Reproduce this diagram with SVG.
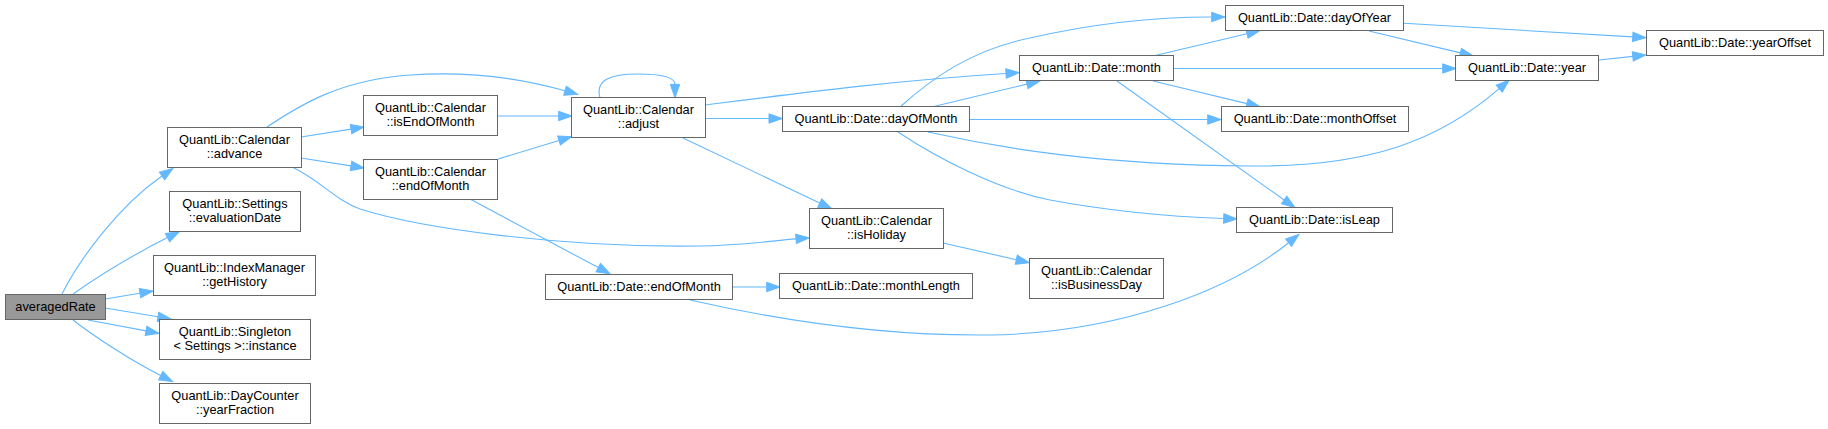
<svg xmlns="http://www.w3.org/2000/svg" width="1828" height="429" viewBox="0 0 1828 429">
<style>
.n rect{fill:#ffffff;stroke:#666666;stroke-width:1}
.n.cur rect{fill:#999999}
.n text{font-family:"Liberation Sans",Arial,sans-serif;font-size:12.8px;fill:#000000;text-anchor:middle}
.e path{fill:none;stroke:#63b8ff;stroke-width:1.1;marker-end:url(#ah)}
</style>
<defs>
<marker id="ah" viewBox="0 -5 14 10" markerWidth="14" markerHeight="10" refX="0" refY="0" orient="auto" markerUnits="userSpaceOnUse" overflow="visible">
<path d="M0,-4.7 L13.3,0 L0,4.7 Z" fill="#63b8ff" stroke="#63b8ff" stroke-width="1"/>
</marker>
</defs>
<rect x="0" y="0" width="1828" height="429" fill="#ffffff"/>
<g id="connectors" class="e">
<path d="M62,294 C80,258 120,205 162,176"/>
<path d="M73,294 C100,275 135,254 167.5,237.6"/>
<path d="M105,299 L140,293.2"/>
<path d="M105,308 L158,316.8"/>
<path d="M88,320 L146,330.9"/>
<path d="M73,320 C95,337 130,360 160.7,375.6"/>
<path d="M267,127 C300,105 340,80 410,75 C470,71 520,78 565,90.8"/>
<path d="M301,137 L351,129.1"/>
<path d="M301,158 L351,165.9"/>
<path d="M292,167 C320,180 335,200 360,209 C420,228 560,248 700,246 C740,245.5 770,241 796,238.9"/>
<path d="M497,116 L558.7,116"/>
<path d="M498,159 L559,140.5"/>
<path d="M470,199 L598.3,267.6"/>
<path d="M600,98 C595,80 610,74 638,74 C665,74 675,78 675,84.4"/>
<path d="M705,105 C800,93 900,80 1006,73.5"/>
<path d="M705,118.5 L769,118.5"/>
<path d="M683,138 L819.7,203"/>
<path d="M732,287 L766.7,287"/>
<path d="M690,300 C800,325 900,336 990,335 C1120,333 1230,290 1288.6,242.7"/>
<path d="M943,243 L1016.3,259.7"/>
<path d="M900,107 C930,80 970,50 1030,38 C1100,22 1160,17 1211.7,17"/>
<path d="M931.7,107 L1027,84.1"/>
<path d="M969,119.5 L1207.7,119.5"/>
<path d="M928,132 C1000,148 1100,165 1250,166 C1370,167 1440,140 1499.2,88.7"/>
<path d="M898,132 C940,160 1000,190 1050,200 C1120,213 1180,217 1223.7,218.5"/>
<path d="M1117,81 L1284.2,200"/>
<path d="M1153,56 L1247,33.7"/>
<path d="M1173,68.5 L1442.7,68.5"/>
<path d="M1153,81 L1247,103.6"/>
<path d="M1404,23.3 L1632.7,36.9"/>
<path d="M1369,31 L1460.4,52.9"/>
<path d="M1599,60 L1632.8,56.4"/>
</g>
<g id="n0" class="n cur"><rect x="5.5" y="294.5" width="100" height="25"/><text x="55.5" y="311">averagedRate</text></g>
<g id="n1" class="n"><rect x="167.5" y="127.5" width="134" height="40"/><text x="234.5" y="144">QuantLib::Calendar</text><text x="234.5" y="158">::advance</text></g>
<g id="n2" class="n"><rect x="169.5" y="191.5" width="131" height="40"/><text x="235" y="208">QuantLib::Settings</text><text x="235" y="222">::evaluationDate</text></g>
<g id="n3" class="n"><rect x="153.5" y="255.5" width="162" height="40"/><text x="234.5" y="272">QuantLib::IndexManager</text><text x="234.5" y="286">::getHistory</text></g>
<g id="n4" class="n"><rect x="159.5" y="319.5" width="151" height="40"/><text x="235" y="336">QuantLib::Singleton</text><text x="235" y="350">&lt; Settings &gt;::instance</text></g>
<g id="n5" class="n"><rect x="159.5" y="383.5" width="151" height="40"/><text x="235" y="400">QuantLib::DayCounter</text><text x="235" y="414">::yearFraction</text></g>
<g id="n6" class="n"><rect x="363.5" y="95.5" width="134" height="40"/><text x="430.5" y="112">QuantLib::Calendar</text><text x="430.5" y="126">::isEndOfMonth</text></g>
<g id="n7" class="n"><rect x="363.5" y="159.5" width="134" height="40"/><text x="430.5" y="176">QuantLib::Calendar</text><text x="430.5" y="190">::endOfMonth</text></g>
<g id="n8" class="n"><rect x="571.5" y="97.5" width="134" height="40"/><text x="638.5" y="114">QuantLib::Calendar</text><text x="638.5" y="128">::adjust</text></g>
<g id="n9" class="n"><rect x="545.5" y="274.5" width="187" height="25"/><text x="639" y="291">QuantLib::Date::endOfMonth</text></g>
<g id="n10" class="n"><rect x="782.5" y="106.5" width="187" height="25"/><text x="876" y="123">QuantLib::Date::dayOfMonth</text></g>
<g id="n11" class="n"><rect x="809.5" y="208.5" width="134" height="40"/><text x="876.5" y="225">QuantLib::Calendar</text><text x="876.5" y="239">::isHoliday</text></g>
<g id="n12" class="n"><rect x="779.5" y="273.5" width="193" height="25"/><text x="876" y="290">QuantLib::Date::monthLength</text></g>
<g id="n13" class="n"><rect x="1019.5" y="55.5" width="154" height="25"/><text x="1096.5" y="72">QuantLib::Date::month</text></g>
<g id="n14" class="n"><rect x="1029.5" y="258.5" width="134" height="40"/><text x="1096.5" y="275">QuantLib::Calendar</text><text x="1096.5" y="289">::isBusinessDay</text></g>
<g id="n15" class="n"><rect x="1225.5" y="5.5" width="178" height="25"/><text x="1314.5" y="22">QuantLib::Date::dayOfYear</text></g>
<g id="n16" class="n"><rect x="1221.5" y="106.5" width="187" height="25"/><text x="1315" y="123">QuantLib::Date::monthOffset</text></g>
<g id="n17" class="n"><rect x="1236.5" y="207.5" width="156" height="25"/><text x="1314.5" y="224">QuantLib::Date::isLeap</text></g>
<g id="n18" class="n"><rect x="1455.5" y="55.5" width="143" height="25"/><text x="1527" y="72">QuantLib::Date::year</text></g>
<g id="n19" class="n"><rect x="1646.5" y="30.5" width="177" height="25"/><text x="1735" y="47">QuantLib::Date::yearOffset</text></g>
</svg>
